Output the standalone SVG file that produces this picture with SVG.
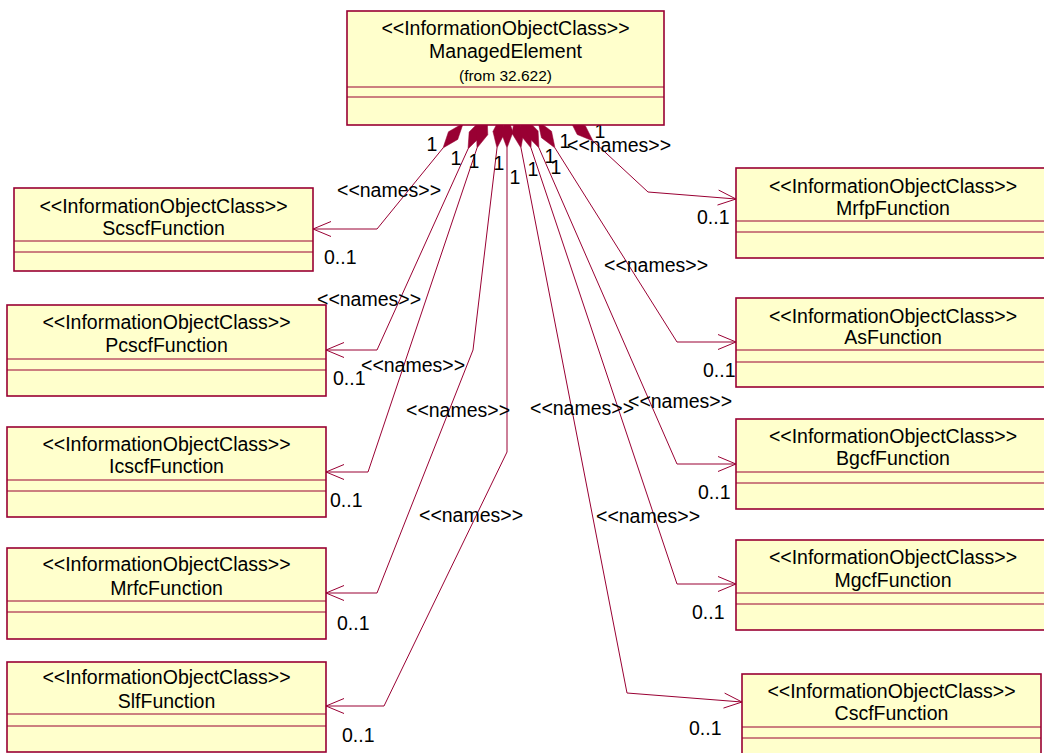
<svg xmlns="http://www.w3.org/2000/svg" width="1044" height="753" viewBox="0 0 1044 753">
<style>
.box{fill:#FFFFCC;stroke:#990033;stroke-width:1.6}
.sep{stroke:#990033;stroke-width:1}
.conn{fill:none;stroke:#990033;stroke-width:1}
.dia{fill:#990033;stroke:#990033;stroke-width:0.5}
text{font-family:"Liberation Sans",Arial,sans-serif;font-size:19.5px;fill:#000}
.c{text-anchor:middle}
.small{font-size:15.5px}
</style>
<rect width="1044" height="753" fill="#ffffff"/>
<g id="connectors">
  <!-- Scscf -->
  <polyline class="conn" points="443,148 377,229 313,229"/>
  <polyline class="conn" points="331,221.5 313,229 331,236.5"/>
  <polygon class="dia" points="443,148 457.76,139.39 463.22,123.2 448.46,131.81"/>
  <!-- Pcscf -->
  <polyline class="conn" points="468,149 377,350 326,350"/>
  <polyline class="conn" points="344,342.5 326,350 344,357.5"/>
  <polygon class="dia" points="468,149 480.07,136.9 481.2,119.84 469.13,131.95"/>
  <!-- Icscf -->
  <polyline class="conn" points="477,148 368,472 326,472"/>
  <polyline class="conn" points="344,464.5 326,472 344,479.5"/>
  <polygon class="dia" points="477,148 487.79,134.74 487.2,117.67 476.41,130.92"/>
  <!-- Mrfc -->
  <polyline class="conn" points="497,148 473,350 377,593 326,593"/>
  <polyline class="conn" points="344,585.5 326,593 344,600.5"/>
  <polygon class="dia" points="497,148 504.85,132.82 500.78,116.22 492.93,131.4"/>
  <!-- Slf -->
  <polyline class="conn" points="507,148 507,452 384,706 326,706"/>
  <polyline class="conn" points="344,698.5 326,706 344,713.5"/>
  <polygon class="dia" points="507,148 513,132 507,116 501,132"/>
  <!-- Cscf -->
  <polyline class="conn" points="521,148 627,693 742,702"/>
  <polyline class="conn" points="723.47,708.08 742,702 724.64,693.12"/>
  <polygon class="dia" points="521,148 523.84,131.14 514.89,116.59 512.06,133.44"/>
  <!-- Mgcf -->
  <polyline class="conn" points="531,148 677,584 736,584"/>
  <polyline class="conn" points="718,576.5 736,584 718,591.5"/>
  <polygon class="dia" points="531,148 531.61,130.92 520.84,117.66 520.23,134.74"/>
  <!-- Bgcf -->
  <polyline class="conn" points="539,148 677,464 736,464"/>
  <polyline class="conn" points="718,456.5 736,464 718,471.5"/>
  <polygon class="dia" points="539,148 538.1,130.94 526.19,118.68 527.1,135.74"/>
  <!-- As -->
  <polyline class="conn" points="555,148 677,342 736,342"/>
  <polyline class="conn" points="718,334.5 736,342 718,349.5"/>
  <polygon class="dia" points="555,148 551.56,131.27 537.97,120.91 541.4,137.65"/>
  <!-- Mrfp -->
  <polyline class="conn" points="593,141 648,192 736,199"/>
  <polyline class="conn" points="717.47,205.05 736,199 718.65,190.09"/>
  <polygon class="dia" points="593,141 585.35,125.72 569.53,119.24 577.19,134.52"/>
  <!-- role labels -->
  <text x="337" y="197">&lt;&lt;names&gt;&gt;</text>
  <text x="317" y="306">&lt;&lt;names&gt;&gt;</text>
  <text x="361" y="372">&lt;&lt;names&gt;&gt;</text>
  <text x="406" y="417">&lt;&lt;names&gt;&gt;</text>
  <text x="419" y="522">&lt;&lt;names&gt;&gt;</text>
  <text x="530" y="415">&lt;&lt;names&gt;&gt;</text>
  <text x="628" y="408">&lt;&lt;names&gt;&gt;</text>
  <text x="604" y="272">&lt;&lt;names&gt;&gt;</text>
  <text x="596" y="523">&lt;&lt;names&gt;&gt;</text>
  <text x="567" y="152">&lt;&lt;names&gt;&gt;</text>
  <!-- multiplicities -->
  <text class="c" x="432" y="151">1</text>
  <text class="c" x="456" y="165">1</text>
  <text class="c" x="474" y="168">1</text>
  <text class="c" x="499" y="170">1</text>
  <text class="c" x="515" y="184">1</text>
  <text class="c" x="533" y="176">1</text>
  <text class="c" x="550" y="163">1</text>
  <text class="c" x="556" y="174">1</text>
  <text class="c" x="565" y="148">1</text>
  <text class="c" x="600" y="138">1</text>
  <text x="324" y="264">0..1</text>
  <text x="333" y="385">0..1</text>
  <text x="330" y="507">0..1</text>
  <text x="337" y="630">0..1</text>
  <text x="342" y="742">0..1</text>
  <text x="697" y="224">0..1</text>
  <text x="703" y="377">0..1</text>
  <text x="698" y="499">0..1</text>
  <text x="692" y="619">0..1</text>
  <text x="689" y="735">0..1</text>
</g>
<g id="ManagedElement">
  <rect class="box" x="347" y="11" width="317" height="114"/>
  <line class="sep" x1="347" y1="87" x2="664" y2="87"/>
  <line class="sep" x1="347" y1="97" x2="664" y2="97"/>
  <text class="c" x="505.5" y="35">&lt;&lt;InformationObjectClass&gt;&gt;</text>
  <text class="c" x="505.5" y="58">ManagedElement</text>
  <text class="c small" x="505.5" y="81">(from 32.622)</text>
</g>
<g id="ScscfFunction">
  <rect class="box" x="14" y="188" width="299" height="83"/>
  <line class="sep" x1="14" y1="241" x2="313" y2="241"/>
  <line class="sep" x1="14" y1="252" x2="313" y2="252"/>
  <text class="c" x="163.5" y="213">&lt;&lt;InformationObjectClass&gt;&gt;</text>
  <text class="c" x="163.5" y="235">ScscfFunction</text>
</g>
<g id="PcscfFunction">
  <rect class="box" x="7" y="305" width="319" height="91"/>
  <line class="sep" x1="7" y1="359" x2="326" y2="359"/>
  <line class="sep" x1="7" y1="370" x2="326" y2="370"/>
  <text class="c" x="166.5" y="329">&lt;&lt;InformationObjectClass&gt;&gt;</text>
  <text class="c" x="166.5" y="352">PcscfFunction</text>
</g>
<g id="IcscfFunction">
  <rect class="box" x="7" y="427" width="319" height="90"/>
  <line class="sep" x1="7" y1="480" x2="326" y2="480"/>
  <line class="sep" x1="7" y1="491" x2="326" y2="491"/>
  <text class="c" x="166.5" y="451">&lt;&lt;InformationObjectClass&gt;&gt;</text>
  <text class="c" x="166.5" y="473">IcscfFunction</text>
</g>
<g id="MrfcFunction">
  <rect class="box" x="7" y="548" width="319" height="91"/>
  <line class="sep" x1="7" y1="601" x2="326" y2="601"/>
  <line class="sep" x1="7" y1="612" x2="326" y2="612"/>
  <text class="c" x="166.5" y="571">&lt;&lt;InformationObjectClass&gt;&gt;</text>
  <text class="c" x="166.5" y="595">MrfcFunction</text>
</g>
<g id="SlfFunction">
  <rect class="box" x="7" y="662" width="319" height="90"/>
  <line class="sep" x1="7" y1="714" x2="326" y2="714"/>
  <line class="sep" x1="7" y1="726" x2="326" y2="726"/>
  <text class="c" x="166.5" y="684">&lt;&lt;InformationObjectClass&gt;&gt;</text>
  <text class="c" x="166.5" y="708">SlfFunction</text>
</g>
<g id="MrfpFunction">
  <rect class="box" x="736" y="168" width="314" height="90"/>
  <line class="sep" x1="736" y1="221" x2="1050" y2="221"/>
  <line class="sep" x1="736" y1="232" x2="1050" y2="232"/>
  <text class="c" x="893" y="193">&lt;&lt;InformationObjectClass&gt;&gt;</text>
  <text class="c" x="893" y="215">MrfpFunction</text>
</g>
<g id="AsFunction">
  <rect class="box" x="736" y="298" width="314" height="89"/>
  <line class="sep" x1="736" y1="350" x2="1050" y2="350"/>
  <line class="sep" x1="736" y1="362" x2="1050" y2="362"/>
  <text class="c" x="893" y="323">&lt;&lt;InformationObjectClass&gt;&gt;</text>
  <text class="c" x="893" y="344">AsFunction</text>
</g>
<g id="BgcfFunction">
  <rect class="box" x="736" y="419" width="314" height="90"/>
  <line class="sep" x1="736" y1="472" x2="1050" y2="472"/>
  <line class="sep" x1="736" y1="483" x2="1050" y2="483"/>
  <text class="c" x="893" y="443">&lt;&lt;InformationObjectClass&gt;&gt;</text>
  <text class="c" x="893" y="465">BgcfFunction</text>
</g>
<g id="MgcfFunction">
  <rect class="box" x="736" y="540" width="314" height="90"/>
  <line class="sep" x1="736" y1="593" x2="1050" y2="593"/>
  <line class="sep" x1="736" y1="604" x2="1050" y2="604"/>
  <text class="c" x="893" y="564">&lt;&lt;InformationObjectClass&gt;&gt;</text>
  <text class="c" x="893" y="587">MgcfFunction</text>
</g>
<g id="CscfFunction">
  <rect class="box" x="742" y="674" width="299" height="90"/>
  <line class="sep" x1="742" y1="727" x2="1041" y2="727"/>
  <line class="sep" x1="742" y1="738" x2="1041" y2="738"/>
  <text class="c" x="891.5" y="698">&lt;&lt;InformationObjectClass&gt;&gt;</text>
  <text class="c" x="891.5" y="720">CscfFunction</text>
</g>
</svg>
